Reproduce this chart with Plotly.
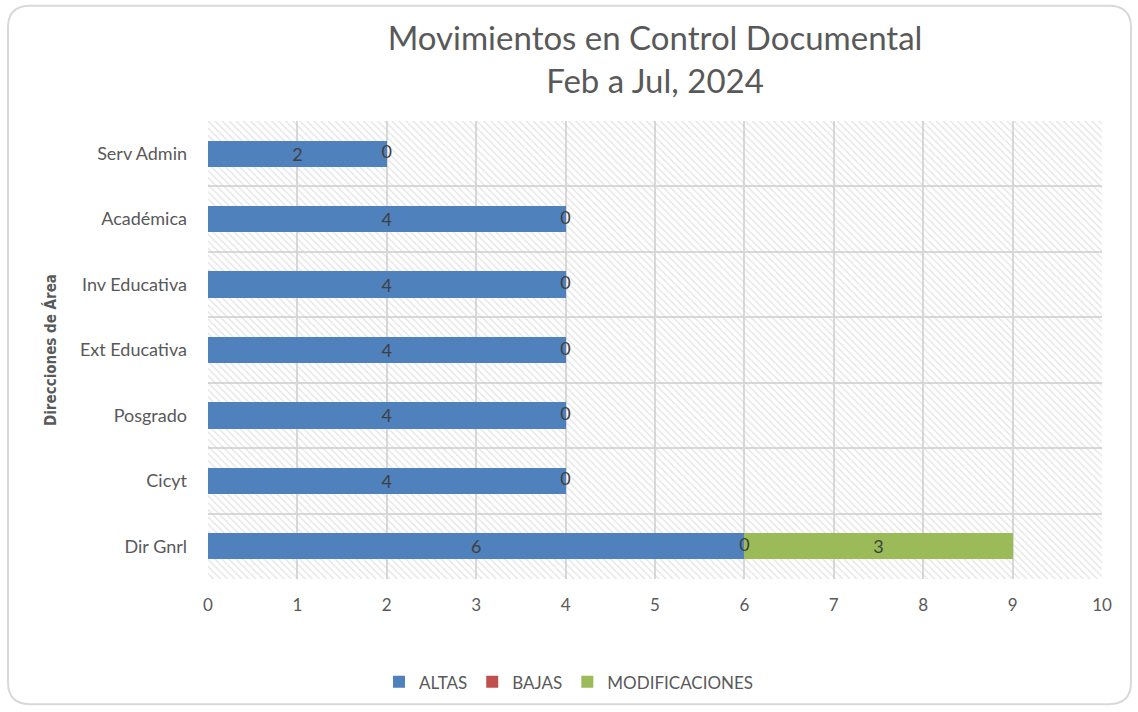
import plotly.graph_objects as go

# ---- data ----
categories = ["Dir Gnrl", "Cicyt", "Posgrado", "Ext Educativa", "Inv Educativa", "Académica", "Serv Admin"]
altas = [6, 4, 4, 4, 4, 4, 2]
bajas = [0, 0, 0, 0, 0, 0, 0]
modificaciones = [3, None, None, None, None, None, None]
x_ticks = [0, 1, 2, 3, 4, 5, 6, 7, 8, 9, 10]

C_ALTAS = "#4F81BD"
C_BAJAS = "#C0504D"
C_MOD = "#9BBB59"
TXT = "#595959"
LBL = "#404040"
FONT = "Lato"

W, H = 1138, 712
ML, MR, MT, MB = 208, 36, 121, 130
PW, PH = W - ML - MR, H - MT - MB

ypos = list(range(len(categories)))
ylo, yhi = -0.5, len(categories) - 0.5

fig = go.Figure()

# hatched plot background (on the base y axis, beneath the bars)
fig.add_trace(go.Scatter(
    x=[x_ticks[0], x_ticks[-1], x_ticks[-1], x_ticks[0], x_ticks[0]],
    y=[ylo, ylo, yhi, yhi, ylo],
    mode="lines", fill="toself", line=dict(width=0),
    fillcolor="rgba(0,0,0,0)",
    fillpattern=dict(shape="\\", fgcolor="#c9c9c9", bgcolor="rgba(0,0,0,0)", size=5, solidity=0.28),
    hoverinfo="skip", showlegend=False, xaxis="x", yaxis="y"))

bar_w = 0.4
lblfont = dict(color=LBL, size=18, family=FONT)
fig.add_trace(go.Bar(
    y=ypos, x=altas, orientation="h", name="ALTAS", marker=dict(color=C_ALTAS, line=dict(width=0)),
    width=bar_w, text=[str(v) for v in altas], textposition="inside", insidetextanchor="middle",
    textangle=0, textfont=lblfont, constraintext="none", yaxis="y2"))
fig.add_trace(go.Bar(
    y=ypos, x=bajas, orientation="h", name="BAJAS", marker=dict(color=C_BAJAS, line=dict(width=0)),
    width=bar_w, yaxis="y2"))
fig.add_trace(go.Bar(
    y=ypos, x=modificaciones, orientation="h", name="MODIFICACIONES", marker=dict(color=C_MOD, line=dict(width=0)),
    width=bar_w, text=["" if v is None else str(v) for v in modificaciones], textposition="inside",
    insidetextanchor="middle", textangle=0, textfont=lblfont, constraintext="none", yaxis="y2"))
# labels for the zero-width BAJAS segments
fig.add_trace(go.Scatter(
    y=ypos, x=[a + b / 2 for a, b in zip(altas, bajas)], mode="text",
    text=[str(v) for v in bajas], textfont=lblfont,
    hoverinfo="skip", showlegend=False, yaxis="y2"))

# rounded outer border
def px(xp):
    return (xp - ML) / PW

def py(yp):
    return (H - MB - yp) / PH

L, R, T, B, r = 8, 1131, 5, 708, 22
path = (f"M {px(L + r)},{py(T)} L {px(R - r)},{py(T)} Q {px(R)},{py(T)} {px(R)},{py(T + r)} "
        f"L {px(R)},{py(B - r)} Q {px(R)},{py(B)} {px(R - r)},{py(B)} "
        f"L {px(L + r)},{py(B)} Q {px(L)},{py(B)} {px(L)},{py(B - r)} "
        f"L {px(L)},{py(T + r)} Q {px(L)},{py(T)} {px(L + r)},{py(T)} Z")

fig.update_layout(
    width=W, height=H,
    margin=dict(l=ML, r=MR, t=MT, b=MB),
    paper_bgcolor="white", plot_bgcolor="white",
    barmode="stack",
    font=dict(family=FONT, color=TXT),
    title=dict(text="Movimientos en Control Documental<br>Feb a Jul, 2024",
               x=0.5, xref="paper", xanchor="center", y=1 - 50 / H, yanchor="middle",
               font=dict(size=33, color=TXT, family=FONT)),
    xaxis=dict(range=[x_ticks[0], x_ticks[-1]], tickvals=x_ticks, showgrid=True, gridcolor="#d9d9d9",
               gridwidth=1.5, zeroline=False, showline=False, ticks="", ticklabelstandoff=14,
               tickfont=dict(size=17, color=TXT, family=FONT)),
    yaxis=dict(range=[ylo, yhi], tickvals=ypos, ticktext=categories, showgrid=False, zeroline=False,
               ticks="", ticklabelstandoff=20, tickfont=dict(size=18, color=TXT, family=FONT),
               minor=dict(tickvals=[i - 0.5 for i in range(len(categories) + 1)], showgrid=True,
                          gridcolor="#d9d9d9", gridwidth=1.5, ticks="")),
    yaxis2=dict(range=[ylo, yhi], overlaying="y", showgrid=False, zeroline=False,
                showticklabels=False, ticks=""),
    legend=dict(orientation="h", x=0.5 + (W / 2 - (ML + PW / 2)) / PW, xanchor="center",
                y=py(686), yanchor="middle", font=dict(size=17, color=TXT, family=FONT),
                traceorder="normal"),
    shapes=[dict(type="path", xref="paper", yref="paper", path=path,
                 line=dict(color="#d9d9d9", width=2), fillcolor="rgba(0,0,0,0)", layer="below")],
    annotations=[dict(text="<b>Direcciones de Área</b>", textangle=-90, xref="paper", yref="paper",
                      x=px(50), y=0.5, xanchor="center", yanchor="middle", showarrow=False,
                      font=dict(size=15, color=TXT, family="DejaVu Sans Condensed, Lato"))],
)

fig.write_html("out.html", post_script="document.body.style.margin='0px';",
               config={"displayModeBar": False})
